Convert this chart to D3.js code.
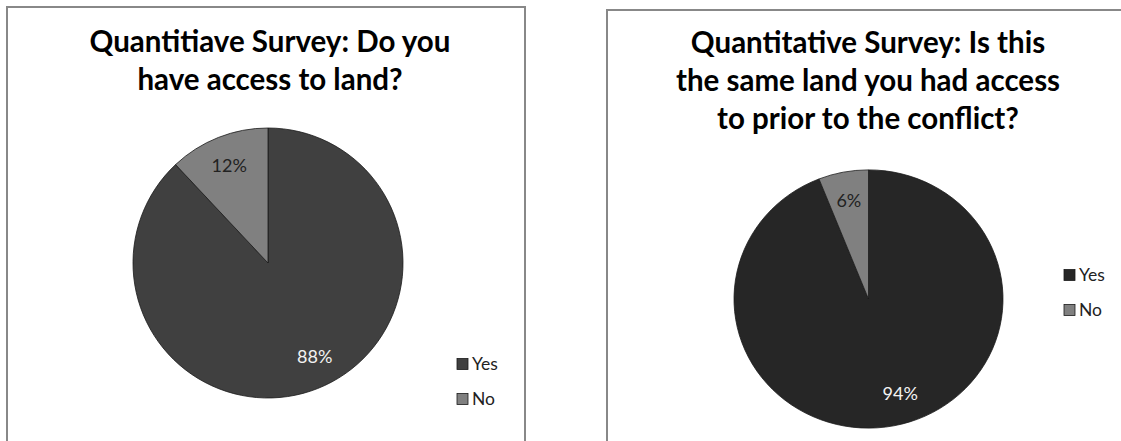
<!DOCTYPE html>
<html><head><meta charset="utf-8">
<script src="https://cdn.jsdelivr.net/npm/d3@7"></script>
<style>body{margin:0;background:#fff;} svg{display:block;}</style>
</head><body>
<svg id="c" width="1121" height="441"></svg>
<script>
const categories = ["Yes", "No"];
const chart1Title = ["Quantitiave Survey: Do you", "have access to land?"];
const chart1Values = [88, 12];
const chart2Title = ["Quantitative Survey: Is this", "the same land you had access", "to prior to the conflict?"];
const chart2Values = [94, 6];

const svg = d3.select("#c");
const font = "Lato, 'Open Sans', sans-serif";

function drawChart(cfg) {
  const g = svg.append("g");
  g.append("path")
    .attr("d", `M${cfg.fx0},460 L${cfg.fx0},${cfg.fy0} L${cfg.fx1},${cfg.fy0} L${cfg.fx1},460`)
    .attr("fill", "none").attr("stroke", "#888").attr("stroke-width", 2);
  const t = g.append("text").attr("text-anchor", "middle")
    .attr("font-family", font).attr("font-weight", "bold")
    .attr("font-size", 29.5).attr("fill", "#000");
  cfg.title.forEach((line, i) => {
    t.append("tspan").attr("x", cfg.tx).attr("y", cfg.ty + i * 38).text(line);
  });
  const color = d3.scaleOrdinal().domain(categories).range(cfg.colors);
  const pie = d3.pie().sort(null).value(d => d.v);
  const data = pie(categories.map((c, i) => ({c, v: cfg.values[i]})));
  const arc = d3.arc().innerRadius(0).outerRadius(cfg.r);
  const labelArc = d3.arc().innerRadius(cfg.r * 0.78).outerRadius(cfg.r * 0.78);
  const pg = g.append("g").attr("transform", `translate(${cfg.cx},${cfg.cy}) scale(1,${cfg.sy})`);
  pg.selectAll("path").data(data).join("path")
    .attr("d", arc).attr("fill", d => color(d.data.c))
    .attr("stroke", "#1a1a1a").attr("stroke-width", 0.8);
  const lg = g.append("g").attr("transform", `translate(${cfg.cx},${cfg.cy})`);
  lg.selectAll("text").data(data).join("text")
    .attr("transform", d => {
      const [x, y] = labelArc.centroid(d);
      const yes = d.data.c === "Yes";
      return `translate(${x + (yes ? cfg.yesDx : 0)},${y * cfg.sy + (yes ? cfg.yesDy : 0)})`;
    })
    .attr("text-anchor", "middle").attr("dy", "0.36em")
    .attr("font-family", font).attr("font-size", 18)
    .attr("fill", d => d.data.c === "Yes" ? "#f2f2f2" : "#222")
    .text(d => d.data.v + "%");
  const leg = g.append("g").attr("transform", `translate(${cfg.lx},${cfg.ly})`);
  const items = leg.selectAll("g").data(categories).join("g")
    .attr("transform", (d, i) => `translate(0,${i * cfg.lgap})`);
  items.append("rect").attr("x", 0).attr("y", -5.5).attr("width", 11).attr("height", 11)
    .attr("fill", d => color(d)).attr("stroke", "#1a1a1a").attr("stroke-width", 0.8);
  items.append("text").attr("x", 15).attr("dy", "0.36em")
    .attr("font-family", font).attr("font-size", 17.5).attr("fill", "#222").text(d => d);
}

drawChart({
  fx0: 7, fy0: 7, fx1: 525, title: chart1Title, tx: 270, ty: 52,
  values: chart1Values, colors: ["#404040", "#808080"],
  cx: 268, cy: 263, r: 135, sy: 1, yesDx: 8, yesDy: -4,
  lx: 457, ly: 364, lgap: 35
});
drawChart({
  fx0: 607, fy0: 10, fx1: 1130, title: chart2Title, tx: 868, ty: 53,
  values: chart2Values, colors: ["#262626", "#808080"],
  cx: 868.5, cy: 299, r: 134.5, sy: 0.96, yesDx: 12, yesDy: -4,
  lx: 1064, ly: 275, lgap: 35
});
</script>
</body></html>
